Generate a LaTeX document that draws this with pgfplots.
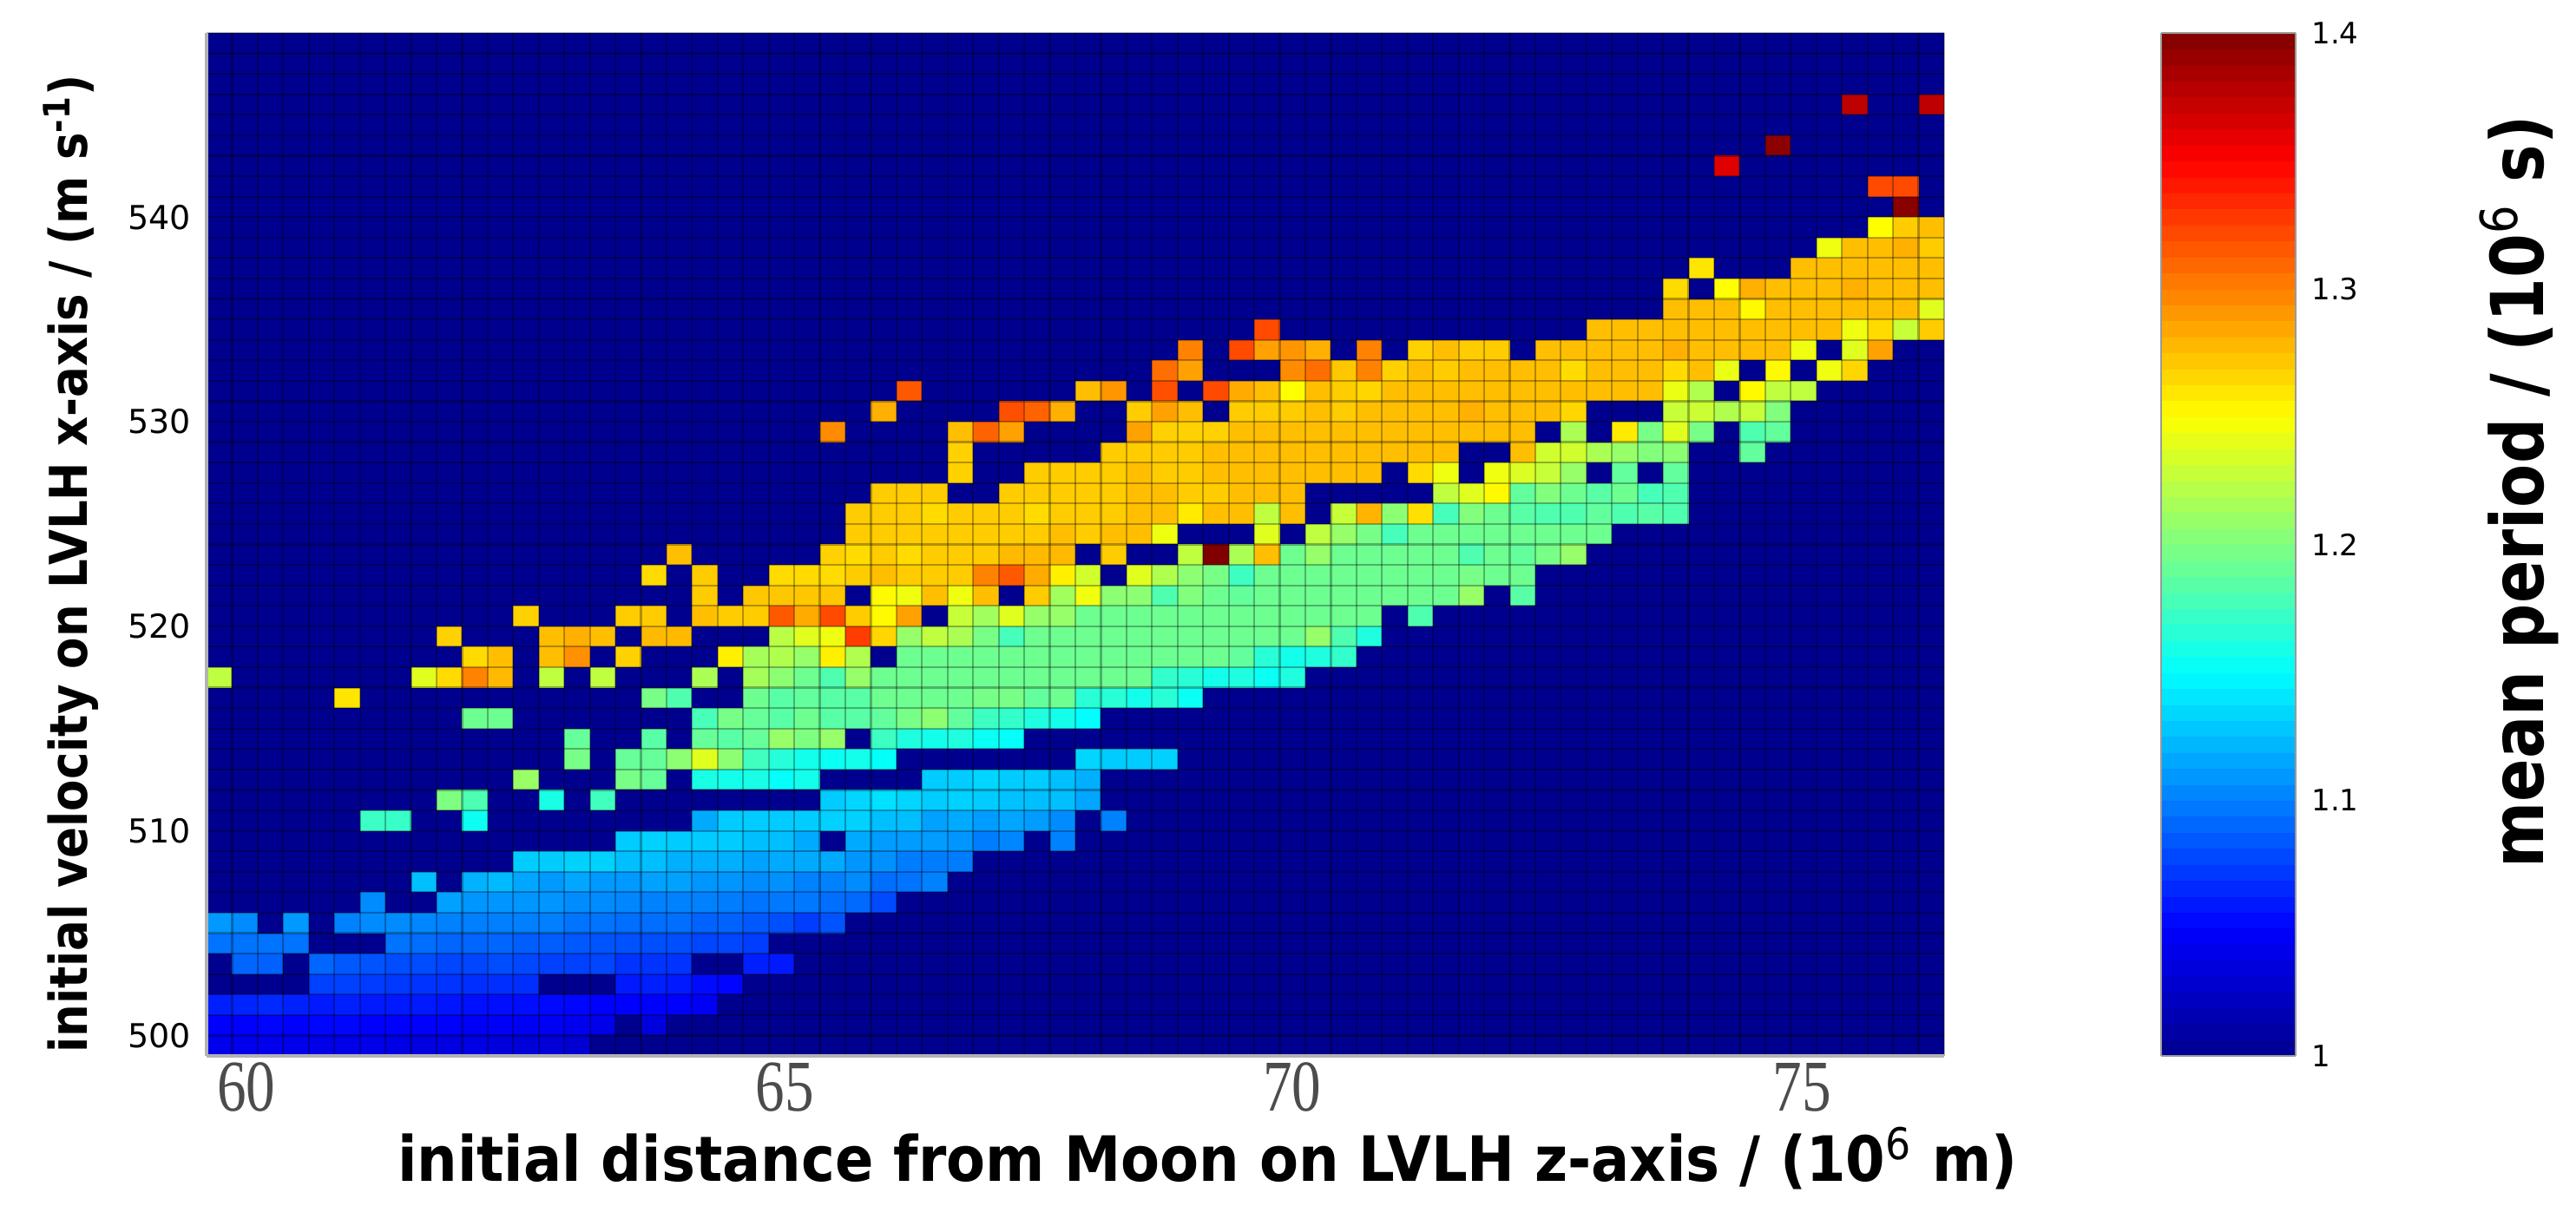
\documentclass[border=0pt]{standalone}
\usepackage{fontspec}
\usepackage{graphicx}
\usepackage{pgfplots}
\pgfplotsset{compat=1.18}
\setmainfont{DejaVu Sans}
\newfontfamily\thinfont{Liberation Serif}

% 1 px of the reference = 0.25pt here; one cell is 7.36pt x 5.895pt
\pgfdeclareplotmark{cell}{%
  \pgfpathrectangle{\pgfpoint{-3.68pt}{-2.9475pt}}{\pgfpoint{7.36pt}{5.895pt}}%
  \pgfusepathqfill}

\definecolor{bgblue}{RGB}{0,0,143}

\begin{document}
\begin{tikzpicture}
\useasboundingbox (0,0) rectangle (742pt,347.5pt);
\begin{axis}[
    at={(59.5pt,43.25pt)}, anchor=south west,
    scale only axis,
    width=500.5pt, height=294.75pt,
    xmin=59.5, xmax=76.5,
    ymin=499, ymax=549,
    axis lines*=left,
    axis line style={gray!60, line width=0.9pt},
    axis background/.style={fill=bgblue},
    axis on top,
    grid=minor,
    minor xtick={59.5,59.75,...,76.5},
    minor ytick={499,500,...,549},
    minor grid style={black, opacity=0.3, line width=0.55pt},
    major tick length=0pt, minor tick length=0pt,
    xtick={59.89,65.16,70.12,75.11},
    xticklabels={\scalebox{.8}[1]{60},\scalebox{.8}[1]{65},\scalebox{.8}[1]{70},\scalebox{.8}[1]{75}},
    xticklabel style={font=\thinfont\fontsize{21}{21}\selectfont, text=black!70, yshift=1.5pt},
    ytick={500,510,520,530,540},
    yticklabels={500,510,520,530,540},
    yticklabel style={font=\fontsize{9.5}{10}\selectfont, xshift=-1pt},
    colormap={myjet}{rgb255(0cm)=(0,0,143) rgb255(1cm)=(0,0,255) rgb255(3cm)=(0,255,255)
        rgb255(5cm)=(255,255,0) rgb255(7cm)=(255,0,0) rgb255(8cm)=(128,0,0)},
    point meta min=1, point meta max=1.4,
    colorbar sampled,
    colorbar style={
        at={(1.125,0)}, anchor=south west,
        width=38.75pt, height=294.75pt,
        samples=65,
        ytick={1,1.1,1.2,1.3,1.4},
        yticklabels={1,1.1,1.2,1.3,1.4},
        yticklabel style={font=\fontsize{8.5}{9}\selectfont, xshift=1pt},
        major tick length=0pt,
        axis line style={black!40, line width=0.4pt},
    },
    xlabel={\fontsize{18}{18}\selectfont\bfseries\scalebox{.91}[1]{initial distance from Moon on LVLH z-axis / (10\textsuperscript{\normalfont 6} m)}},
    xlabel style={at={(axis description cs:0.576,0)}, anchor=north, yshift=-17pt},
    ylabel={\fontsize{15}{15}\selectfont\bfseries\scalebox{.883}[1]{initial velocity on LVLH x-axis / (m s\textsuperscript{-1})}},
    ylabel style={at={(axis description cs:0,0.481)}, anchor=south, yshift=27.5pt},
]
\addplot[
    scatter, only marks, mark=cell,
    point meta=explicit,
    clip marker paths=true,
    x filter/.expression={59.625+0.25*x},
    y filter/.expression={y+0.5},
] coordinates {
(0,499)[1.042] (1,499)[1.042] (2,499)[1.042] (3,499)[1.041] (4,499)[1.04] (5,499)[1.04] (6,499)[1.04] (7,499)[1.038] (8,499)[1.036] (9,499)[1.036] (10,499)[1.038] (11,499)[1.035] (12,499)[1.033] (13,499)[1.032] (14,499)[1.03]
(0,500)[1.05] (1,500)[1.05] (2,500)[1.051] (3,500)[1.05] (4,500)[1.052] (5,500)[1.052] (6,500)[1.05] (7,500)[1.05] (8,500)[1.05] (9,500)[1.05] (10,500)[1.047] (11,500)[1.047] (12,500)[1.045] (13,500)[1.045] (14,500)[1.043] (15,500)[1.04] (17,500)[1.035]
(0,501)[1.062] (1,501)[1.064] (2,501)[1.066] (3,501)[1.063] (4,501)[1.06] (5,501)[1.062] (6,501)[1.06] (7,501)[1.06] (8,501)[1.06] (9,501)[1.058] (10,501)[1.056] (11,501)[1.055] (12,501)[1.055] (13,501)[1.053] (14,501)[1.052] (15,501)[1.05] (16,501)[1.05] (17,501)[1.05] (18,501)[1.05] (19,501)[1.045]
(4,502)[1.075] (5,502)[1.075] (6,502)[1.073] (7,502)[1.072] (8,502)[1.07] (9,502)[1.07] (10,502)[1.068] (11,502)[1.068] (12,502)[1.068] (16,502)[1.06] (17,502)[1.062] (18,502)[1.06] (19,502)[1.054] (20,502)[1.052]
(1,503)[1.09] (2,503)[1.088] (4,503)[1.09] (5,503)[1.085] (6,503)[1.083] (7,503)[1.08] (8,503)[1.08] (9,503)[1.077] (10,503)[1.077] (11,503)[1.08] (12,503)[1.078] (13,503)[1.075] (14,503)[1.075] (15,503)[1.077] (16,503)[1.07] (17,503)[1.07] (18,503)[1.07] (21,503)[1.062] (22,503)[1.06]
(0,504)[1.095] (1,504)[1.095] (2,504)[1.095] (3,504)[1.095] (7,504)[1.095] (8,504)[1.093] (9,504)[1.09] (10,504)[1.09] (11,504)[1.09] (12,504)[1.087] (13,504)[1.087] (14,504)[1.085] (15,504)[1.083] (16,504)[1.082] (17,504)[1.081] (18,504)[1.081] (19,504)[1.077] (20,504)[1.077] (21,504)[1.074]
(0,505)[1.11] (1,505)[1.105] (3,505)[1.11] (5,505)[1.101] (6,505)[1.105] (7,505)[1.105] (8,505)[1.103] (9,505)[1.101] (10,505)[1.1] (11,505)[1.1] (12,505)[1.1] (13,505)[1.1] (14,505)[1.095] (15,505)[1.095] (16,505)[1.093] (17,505)[1.093] (18,505)[1.093] (19,505)[1.089] (20,505)[1.089] (21,505)[1.085] (22,505)[1.081] (23,505)[1.074] (24,505)[1.083]
(6,506)[1.105] (9,506)[1.113] (10,506)[1.109] (11,506)[1.109] (12,506)[1.109] (13,506)[1.109] (14,506)[1.105] (15,506)[1.105] (16,506)[1.103] (17,506)[1.101] (18,506)[1.101] (19,506)[1.101] (20,506)[1.099] (21,506)[1.095] (22,506)[1.097] (23,506)[1.097] (24,506)[1.093] (25,506)[1.091] (26,506)[1.079]
(8,507)[1.125] (10,507)[1.12] (11,507)[1.123] (12,507)[1.115] (13,507)[1.11] (14,507)[1.115] (15,507)[1.11] (16,507)[1.11] (17,507)[1.113] (18,507)[1.113] (19,507)[1.109] (20,507)[1.109] (21,507)[1.105] (22,507)[1.107] (23,507)[1.101] (24,507)[1.101] (25,507)[1.105] (26,507)[1.093] (27,507)[1.095] (28,507)[1.101]
(12,508)[1.13] (13,508)[1.13] (14,508)[1.132] (15,508)[1.132] (16,508)[1.125] (17,508)[1.125] (18,508)[1.119] (19,508)[1.119] (20,508)[1.119] (21,508)[1.113] (22,508)[1.117] (23,508)[1.117] (24,508)[1.117] (25,508)[1.109] (26,508)[1.107] (27,508)[1.099] (28,508)[1.099] (29,508)[1.099]
(16,509)[1.13] (17,509)[1.132] (18,509)[1.13] (19,509)[1.13] (20,509)[1.13] (21,509)[1.125] (22,509)[1.125] (23,509)[1.117] (25,509)[1.117] (26,509)[1.111] (27,509)[1.111] (28,509)[1.111] (29,509)[1.109] (30,509)[1.099] (31,509)[1.103] (33,509)[1.101]
(6,510)[1.173] (7,510)[1.172] (10,510)[1.155] (19,510)[1.117] (20,510)[1.13] (21,510)[1.13] (22,510)[1.13] (23,510)[1.13] (24,510)[1.132] (25,510)[1.132] (26,510)[1.125] (27,510)[1.125] (28,510)[1.113] (29,510)[1.117] (30,510)[1.111] (31,510)[1.115] (32,510)[1.111] (33,510)[1.105] (35,510)[1.101]
(9,511)[1.2] (10,511)[1.18] (13,511)[1.16] (15,511)[1.175] (24,511)[1.13] (25,511)[1.134] (26,511)[1.138] (27,511)[1.134] (28,511)[1.13] (29,511)[1.132] (30,511)[1.13] (31,511)[1.126] (32,511)[1.125] (33,511)[1.125] (34,511)[1.115]
(12,512)[1.21] (16,512)[1.197] (17,512)[1.19] (19,512)[1.16] (20,512)[1.158] (21,512)[1.16] (22,512)[1.152] (23,512)[1.158] (28,512)[1.13] (29,512)[1.13] (30,512)[1.134] (31,512)[1.13] (32,512)[1.13] (33,512)[1.125] (34,512)[1.119]
(14,513)[1.197] (16,513)[1.19] (17,513)[1.19] (18,513)[1.205] (19,513)[1.238] (20,513)[1.205] (21,513)[1.175] (22,513)[1.165] (23,513)[1.158] (24,513)[1.154] (25,513)[1.158] (26,513)[1.152] (34,513)[1.134] (35,513)[1.13] (36,513)[1.13] (37,513)[1.132]
(14,514)[1.19] (17,514)[1.185] (19,514)[1.19] (20,514)[1.185] (21,514)[1.19] (22,514)[1.209] (23,514)[1.2] (24,514)[1.209] (26,514)[1.174] (27,514)[1.162] (28,514)[1.158] (29,514)[1.162] (30,514)[1.154] (31,514)[1.152]
(10,515)[1.193] (11,515)[1.193] (19,515)[1.178] (20,515)[1.197] (21,515)[1.19] (22,515)[1.185] (23,515)[1.193] (24,515)[1.185] (25,515)[1.185] (26,515)[1.189] (27,515)[1.197] (28,515)[1.205] (29,515)[1.189] (30,515)[1.174] (31,515)[1.17] (32,515)[1.162] (33,515)[1.158] (34,515)[1.15]
(5,516)[1.26] (17,516)[1.197] (18,516)[1.181] (21,516)[1.193] (22,516)[1.185] (23,516)[1.189] (24,516)[1.185] (25,516)[1.185] (26,516)[1.193] (27,516)[1.193] (28,516)[1.193] (29,516)[1.193] (30,516)[1.197] (31,516)[1.197] (32,516)[1.189] (33,516)[1.193] (34,516)[1.166] (35,516)[1.166] (36,516)[1.158] (37,516)[1.166] (38,516)[1.154]
(0,517)[1.225] (8,517)[1.238] (9,517)[1.264] (10,517)[1.299] (11,517)[1.277] (13,517)[1.225] (15,517)[1.225] (19,517)[1.217] (21,517)[1.215] (22,517)[1.205] (23,517)[1.193] (24,517)[1.181] (25,517)[1.209] (26,517)[1.193] (27,517)[1.193] (28,517)[1.193] (29,517)[1.193] (30,517)[1.193] (31,517)[1.193] (32,517)[1.193] (33,517)[1.193] (34,517)[1.193] (35,517)[1.193] (36,517)[1.193] (37,517)[1.17] (38,517)[1.166] (39,517)[1.158] (40,517)[1.162] (41,517)[1.154] (42,517)[1.162]
(10,518)[1.264] (11,518)[1.275] (13,518)[1.275] (14,518)[1.293] (16,518)[1.268] (20,518)[1.256] (21,518)[1.215] (22,518)[1.219] (23,518)[1.209] (24,518)[1.256] (25,518)[1.219] (27,518)[1.193] (28,518)[1.193] (29,518)[1.193] (30,518)[1.193] (31,518)[1.193] (32,518)[1.193] (33,518)[1.193] (34,518)[1.193] (35,518)[1.193] (36,518)[1.193] (37,518)[1.193] (38,518)[1.193] (39,518)[1.193] (40,518)[1.189] (41,518)[1.166] (42,518)[1.158] (43,518)[1.162] (44,518)[1.17]
(9,519)[1.268] (13,519)[1.275] (14,519)[1.281] (15,519)[1.275] (17,519)[1.277] (18,519)[1.277] (22,519)[1.223] (23,519)[1.238] (24,519)[1.244] (25,519)[1.326] (26,519)[1.266] (27,519)[1.209] (28,519)[1.225] (29,519)[1.217] (30,519)[1.197] (31,519)[1.177] (32,519)[1.193] (33,519)[1.193] (34,519)[1.193] (35,519)[1.193] (36,519)[1.193] (37,519)[1.193] (38,519)[1.193] (39,519)[1.193] (40,519)[1.193] (41,519)[1.193] (42,519)[1.193] (43,519)[1.209] (44,519)[1.181] (45,519)[1.162]
(12,520)[1.268] (16,520)[1.27] (17,520)[1.27] (19,520)[1.275] (20,520)[1.27] (21,520)[1.27] (22,520)[1.315] (23,520)[1.283] (24,520)[1.321] (25,520)[1.27] (26,520)[1.252] (27,520)[1.287] (29,520)[1.228] (30,520)[1.213] (31,520)[1.238] (32,520)[1.209] (33,520)[1.209] (34,520)[1.193] (35,520)[1.193] (36,520)[1.193] (37,520)[1.193] (38,520)[1.193] (39,520)[1.193] (40,520)[1.193] (41,520)[1.193] (42,520)[1.193] (43,520)[1.193] (44,520)[1.193] (45,520)[1.193] (47,520)[1.181]
(19,521)[1.27] (21,521)[1.272] (22,521)[1.272] (23,521)[1.272] (24,521)[1.272] (26,521)[1.252] (27,521)[1.244] (28,521)[1.275] (29,521)[1.244] (30,521)[1.275] (32,521)[1.27] (33,521)[1.213] (34,521)[1.244] (35,521)[1.205] (36,521)[1.205] (37,521)[1.181] (38,521)[1.201] (39,521)[1.193] (40,521)[1.189] (41,521)[1.193] (42,521)[1.193] (43,521)[1.193] (44,521)[1.193] (45,521)[1.193] (46,521)[1.193] (47,521)[1.193] (48,521)[1.193] (49,521)[1.209] (51,521)[1.185]
(17,522)[1.264] (19,522)[1.27] (22,522)[1.264] (23,522)[1.264] (24,522)[1.264] (25,522)[1.27] (26,522)[1.275] (27,522)[1.27] (28,522)[1.27] (29,522)[1.27] (30,522)[1.299] (31,522)[1.315] (32,522)[1.283] (33,522)[1.256] (34,522)[1.232] (36,522)[1.238] (37,522)[1.219] (38,522)[1.205] (39,522)[1.197] (40,522)[1.174] (41,522)[1.193] (42,522)[1.193] (43,522)[1.193] (44,522)[1.193] (45,522)[1.193] (46,522)[1.193] (47,522)[1.193] (48,522)[1.193] (49,522)[1.197] (50,522)[1.193] (51,522)[1.193]
(18,523)[1.275] (24,523)[1.268] (25,523)[1.264] (26,523)[1.27] (27,523)[1.264] (28,523)[1.27] (29,523)[1.27] (30,523)[1.27] (31,523)[1.277] (32,523)[1.277] (33,523)[1.277] (35,523)[1.27] (38,523)[1.225] (39,523)[1.4] (40,523)[1.217] (41,523)[1.275] (42,523)[1.193] (43,523)[1.209] (44,523)[1.193] (45,523)[1.193] (46,523)[1.193] (47,523)[1.193] (48,523)[1.193] (49,523)[1.181] (50,523)[1.193] (51,523)[1.189] (52,523)[1.197] (53,523)[1.209]
(25,524)[1.27] (26,524)[1.27] (27,524)[1.27] (28,524)[1.27] (29,524)[1.27] (30,524)[1.27] (31,524)[1.27] (32,524)[1.27] (33,524)[1.275] (34,524)[1.27] (35,524)[1.275] (36,524)[1.275] (37,524)[1.244] (41,524)[1.238] (43,524)[1.225] (44,524)[1.209] (45,524)[1.197] (46,524)[1.177] (47,524)[1.193] (48,524)[1.193] (49,524)[1.193] (50,524)[1.193] (51,524)[1.193] (52,524)[1.193] (53,524)[1.193] (54,524)[1.193]
(25,525)[1.27] (26,525)[1.27] (27,525)[1.27] (28,525)[1.264] (29,525)[1.27] (30,525)[1.27] (31,525)[1.27] (32,525)[1.264] (33,525)[1.27] (34,525)[1.27] (35,525)[1.27] (36,525)[1.275] (37,525)[1.275] (38,525)[1.258] (39,525)[1.275] (40,525)[1.275] (41,525)[1.225] (42,525)[1.275] (44,525)[1.228] (45,525)[1.279] (46,525)[1.205] (47,525)[1.262] (48,525)[1.177] (49,525)[1.201] (50,525)[1.193] (51,525)[1.185] (52,525)[1.181] (53,525)[1.181] (54,525)[1.189] (55,525)[1.181] (56,525)[1.185] (57,525)[1.181]
(26,526)[1.27] (27,526)[1.27] (28,526)[1.27] (31,526)[1.27] (32,526)[1.27] (33,526)[1.27] (34,526)[1.27] (35,526)[1.27] (36,526)[1.275] (37,526)[1.275] (38,526)[1.27] (39,526)[1.27] (40,526)[1.275] (41,526)[1.275] (42,526)[1.275] (48,526)[1.225] (49,526)[1.238] (50,526)[1.252] (51,526)[1.189] (52,526)[1.201] (53,526)[1.193] (54,526)[1.185] (55,526)[1.193] (56,526)[1.177] (57,526)[1.181]
(29,527)[1.268] (32,527)[1.27] (33,527)[1.27] (34,527)[1.27] (35,527)[1.27] (36,527)[1.275] (37,527)[1.27] (38,527)[1.27] (39,527)[1.275] (40,527)[1.275] (41,527)[1.275] (42,527)[1.275] (43,527)[1.275] (44,527)[1.275] (45,527)[1.275] (47,527)[1.264] (48,527)[1.244] (50,527)[1.244] (51,527)[1.236] (52,527)[1.228] (53,527)[1.209] (55,527)[1.189] (57,527)[1.189]
(29,528)[1.268] (35,528)[1.27] (36,528)[1.27] (37,528)[1.27] (38,528)[1.27] (39,528)[1.275] (40,528)[1.275] (41,528)[1.275] (42,528)[1.275] (43,528)[1.275] (44,528)[1.275] (45,528)[1.275] (46,528)[1.275] (47,528)[1.275] (48,528)[1.275] (51,528)[1.275] (52,528)[1.232] (53,528)[1.232] (54,528)[1.217] (55,528)[1.209] (56,528)[1.201] (57,528)[1.205] (60,528)[1.189]
(24,529)[1.295] (29,529)[1.275] (30,529)[1.311] (31,529)[1.287] (36,529)[1.287] (37,529)[1.268] (38,529)[1.268] (39,529)[1.268] (40,529)[1.275] (41,529)[1.275] (42,529)[1.275] (43,529)[1.275] (44,529)[1.275] (45,529)[1.275] (46,529)[1.275] (47,529)[1.275] (48,529)[1.275] (49,529)[1.275] (50,529)[1.275] (51,529)[1.275] (53,529)[1.217] (55,529)[1.258] (56,529)[1.197] (57,529)[1.238] (58,529)[1.197] (60,529)[1.181] (61,529)[1.189]
(26,530)[1.281] (31,530)[1.319] (32,530)[1.311] (33,530)[1.281] (36,530)[1.27] (37,530)[1.287] (38,530)[1.275] (40,530)[1.27] (41,530)[1.27] (42,530)[1.27] (43,530)[1.275] (44,530)[1.27] (45,530)[1.275] (46,530)[1.275] (47,530)[1.275] (48,530)[1.275] (49,530)[1.281] (50,530)[1.275] (51,530)[1.275] (52,530)[1.275] (53,530)[1.266] (57,530)[1.228] (58,530)[1.23] (59,530)[1.219] (60,530)[1.228] (61,530)[1.201]
(27,531)[1.315] (34,531)[1.275] (35,531)[1.291] (37,531)[1.319] (39,531)[1.321] (40,531)[1.283] (41,531)[1.275] (42,531)[1.25] (43,531)[1.275] (44,531)[1.27] (45,531)[1.266] (46,531)[1.275] (47,531)[1.275] (48,531)[1.275] (49,531)[1.275] (50,531)[1.275] (51,531)[1.275] (52,531)[1.275] (53,531)[1.275] (54,531)[1.275] (55,531)[1.275] (56,531)[1.275] (57,531)[1.242] (58,531)[1.219] (60,531)[1.252] (61,531)[1.225] (62,531)[1.225]
(37,532)[1.307] (38,532)[1.287] (42,532)[1.295] (43,532)[1.307] (44,532)[1.272] (45,532)[1.299] (46,532)[1.268] (47,532)[1.275] (48,532)[1.27] (49,532)[1.275] (50,532)[1.275] (51,532)[1.275] (52,532)[1.275] (53,532)[1.264] (54,532)[1.275] (55,532)[1.275] (56,532)[1.275] (57,532)[1.264] (58,532)[1.275] (59,532)[1.242] (61,532)[1.252] (63,532)[1.244] (64,532)[1.266]
(38,533)[1.299] (40,533)[1.321] (41,533)[1.287] (42,533)[1.291] (43,533)[1.281] (45,533)[1.299] (47,533)[1.268] (48,533)[1.275] (49,533)[1.27] (50,533)[1.27] (52,533)[1.275] (53,533)[1.275] (54,533)[1.275] (55,533)[1.275] (56,533)[1.275] (57,533)[1.281] (58,533)[1.275] (59,533)[1.275] (60,533)[1.275] (61,533)[1.275] (62,533)[1.244] (64,533)[1.238] (65,533)[1.287]
(41,534)[1.321] (54,534)[1.275] (55,534)[1.275] (56,534)[1.275] (57,534)[1.275] (58,534)[1.275] (59,534)[1.275] (60,534)[1.275] (61,534)[1.275] (62,534)[1.275] (63,534)[1.275] (64,534)[1.244] (65,534)[1.264] (66,534)[1.228] (67,534)[1.27]
(57,535)[1.275] (58,535)[1.275] (59,535)[1.275] (60,535)[1.252] (61,535)[1.275] (62,535)[1.275] (63,535)[1.275] (64,535)[1.275] (65,535)[1.275] (66,535)[1.275] (67,535)[1.238]
(57,536)[1.264] (59,536)[1.25] (60,536)[1.281] (61,536)[1.275] (62,536)[1.275] (63,536)[1.275] (64,536)[1.281] (65,536)[1.275] (66,536)[1.275] (67,536)[1.275]
(58,537)[1.26] (62,537)[1.275] (63,537)[1.275] (64,537)[1.275] (65,537)[1.275] (66,537)[1.275] (67,537)[1.275]
(63,538)[1.244] (64,538)[1.275] (65,538)[1.275] (66,538)[1.281] (67,538)[1.27]
(65,539)[1.25] (66,539)[1.27] (67,539)[1.275]
(66,540)[1.397]
(65,541)[1.321] (66,541)[1.321]
(59,542)[1.362]
(61,543)[1.395]
(64,545)[1.376] (67,545)[1.376]
};
\end{axis}
% colourbar title, placed by hand beside the bar
\node[rotate=90, anchor=center, font=\fontsize{21}{21}\selectfont\bfseries] at (725.5pt,205.75pt)
    {\scalebox{.87}[1]{mean period / (10\textsuperscript{\normalfont 6} s)}};
\end{tikzpicture}
\end{document}
